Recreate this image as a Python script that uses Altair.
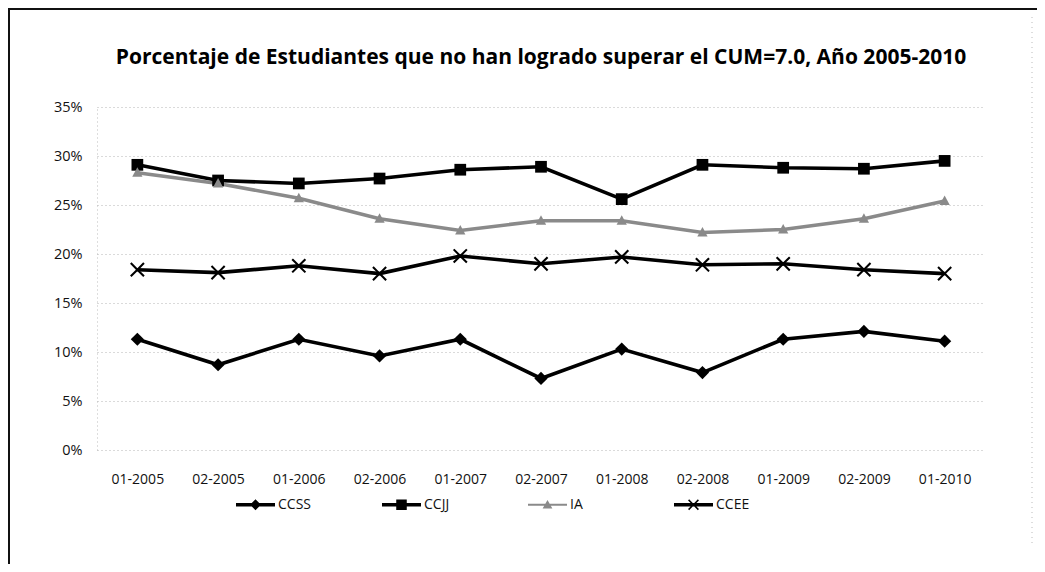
import altair as alt
import pandas as pd
import re

categories = ["01-2005", "02-2005", "01-2006", "02-2006", "01-2007", "02-2007",
              "01-2008", "02-2008", "01-2009", "02-2009", "01-2010"]
series = ["CCSS", "CCJJ", "IA", "CCEE"]
ccss = [11.3, 8.7, 11.3, 9.6, 11.3, 7.3, 10.3, 7.9, 11.3, 12.1, 11.1]
ccjj = [29.1, 27.5, 27.2, 27.7, 28.6, 28.9, 25.6, 29.1, 28.8, 28.7, 29.5]
ia = [28.3, 27.2, 25.7, 23.6, 22.4, 23.4, 23.4, 22.2, 22.5, 23.6, 25.4]
ccee = [18.4, 18.1, 18.8, 18.0, 19.8, 19.0, 19.7, 18.9, 19.0, 18.4, 18.0]
y_ticks = [0, 5, 10, 15, 20, 25, 30, 35]
title_text = "Porcentaje de Estudiantes que no han logrado superar el CUM=7.0, Año 2005-2010"

rows = []
for name, vals in zip(series, [ccss, ccjj, ia, ccee]):
    for c, v in zip(categories, vals):
        rows.append({"periodo": c, "serie": name, "valor": v})
df = pd.DataFrame(rows)

colors = ["#000000", "#000000", "#8a8a8a", "#000000"]
widths = [3.6, 3.6, 2.0, 3.6]

# marker shapes (filled paths)
X_PATH = "M-1,-0.8L-0.8,-1L0,-0.2L0.8,-1L1,-0.8L0.2,0L1,0.8L0.8,1L0,0.2L-0.8,1L-1,0.8L-0.2,0Z"
point_shapes = [
    "M-0.9,0L0,-0.9L0.9,0L0,0.9Z",
    "M-0.8,-0.8H0.8V0.8H-0.8Z",
    "M0,-0.75L0.7,0.55H-0.7Z",
    X_PATH,
]


def scale_path(p, k):
    return re.sub(r"-?\d+\.?\d*", lambda m: f"{float(m.group()) * k:.3f}", p)


line_thick = "M-1,-0.085H1V0.085H-1Z"
line_thin = "M-1,-0.05H1V0.05H-1Z"
legend_shapes = [
    line_thick + " M-0.28,0L0,-0.28L0.28,0L0,0.28Z",
    line_thick + " M-0.27,-0.27H0.27V0.27H-0.27Z",
    line_thin + " M0,-0.25L0.25,0.19H-0.25Z",
    line_thick + " " + scale_path(X_PATH, 0.28),
]

FONT = "Open Sans"

x_enc = alt.X(
    "periodo:N",
    sort=categories,
    scale=alt.Scale(type="point", padding=0.5),
    axis=alt.Axis(title=None, labelAngle=0, ticks=False, domain=False,
                  labelPadding=22, labelFontSize=14, labelFont=FONT,
                  labelColor="#111111", grid=False),
)
y_enc = alt.Y(
    "valor:Q",
    scale=alt.Scale(domain=[0, 35], nice=False),
    axis=alt.Axis(title=None, values=y_ticks, labelExpr="datum.value + '%'",
                  ticks=False, domain=True, domainColor="#bdbdbd", domainDash=[1, 3],
                  labelPadding=15, labelFontSize=14.5, labelFont=FONT,
                  labelColor="#111111", grid=True, gridColor="#b5b5b5",
                  gridDash=[1, 3], gridWidth=1),
)

lines = alt.Chart(df).mark_line().encode(
    x=x_enc,
    y=y_enc,
    color=alt.Color("serie:N", sort=series,
                    scale=alt.Scale(domain=series, range=colors), legend=None),
    strokeWidth=alt.StrokeWidth("serie:N", sort=series,
                                scale=alt.Scale(domain=series, range=widths), legend=None),
)

points = alt.Chart(df).mark_point(filled=True, size=215, opacity=1).encode(
    x=x_enc,
    y=y_enc,
    color=alt.Color("serie:N", sort=series,
                    scale=alt.Scale(domain=series, range=colors), legend=None),
    shape=alt.Shape("serie:N", sort=series,
                    scale=alt.Scale(domain=series, range=point_shapes), legend=None),
)

leg = alt.Legend(
    title=None, orient="none", legendX=139, legendY=378, direction="horizontal",
    columns=4, gridAlign="all", columnPadding=70, symbolSize=1521,
    symbolStrokeWidth=0, labelFont=FONT, labelFontSize=14, labelColor="#111111",
    labelOffset=3, padding=0,
)

legend_layer = alt.Chart(df).transform_filter("false").mark_point(filled=True, opacity=1).encode(
    color=alt.Color("serie:N", sort=series,
                    scale=alt.Scale(domain=series, range=colors), legend=leg),
    shape=alt.Shape("serie:N", sort=series,
                    scale=alt.Scale(domain=series, range=legend_shapes), legend=leg),
)

one = alt.Data(values=[{}])
top_border = alt.Chart(one).mark_rule(color="#111111", strokeWidth=2).encode(
    x=alt.value(-89), x2=alt.value(943), y=alt.value(-98))
left_border = alt.Chart(one).mark_rule(color="#111111", strokeWidth=2).encode(
    x=alt.value(-88), y=alt.value(-98), y2=alt.value(457))
right_border = alt.Chart(one).mark_rule(color="#bbbbbb", strokeWidth=1, strokeDash=[1, 4]).encode(
    x=alt.value(935), y=alt.value(-90), y2=alt.value(440))

chart = alt.layer(
    top_border, left_border, right_border, lines, points, legend_layer
).resolve_scale(
    color="independent", shape="independent", strokeWidth="independent"
).properties(
    width=888,
    height=343,
    background="white",
    autosize=alt.AutoSizeParams(type="none"),
    padding={"left": 89, "top": 99, "right": 52, "bottom": 114},
    title=alt.TitleParams(title_text, font=FONT, fontSize=21, fontWeight="bold",
                          anchor="middle", offset=-60, color="#000000"),
).configure_view(stroke=None)

chart.save("out.html", embed_options={"renderer": "svg", "actions": False})
